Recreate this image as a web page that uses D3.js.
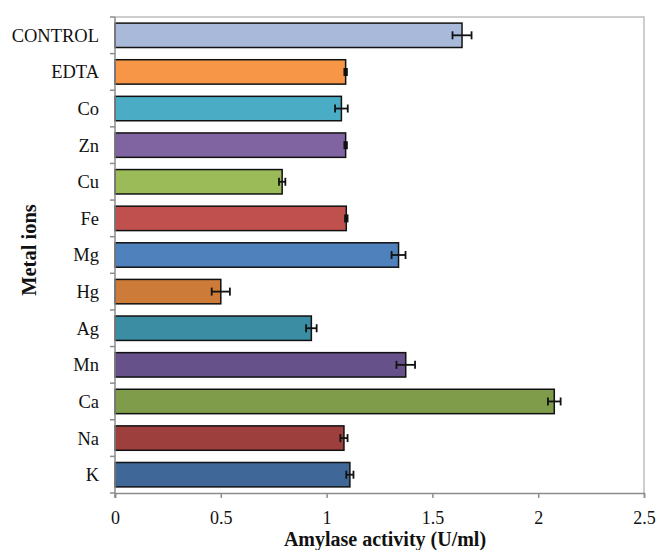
<!DOCTYPE html>
<html>
<head>
<meta charset="utf-8">
<script src="https://cdn.jsdelivr.net/npm/d3@7"></script>
<style>
  html, body { margin: 0; padding: 0; background: #fff; }
</style>
</head>
<body>
<svg id="chart" width="656" height="550"></svg>
<script>
// Amylase activity by metal ion (mean ± error)
const ions = ["CONTROL", "EDTA", "Co", "Zn", "Cu", "Fe", "Mg", "Hg", "Ag", "Mn", "Ca", "Na", "K"];
const activity = [1.64, 1.09, 1.07, 1.09, 0.79, 1.093, 1.34, 0.50, 0.928, 1.374, 2.076, 1.082, 1.11];
const errors = [0.045, 0.006, 0.03, 0.006, 0.015, 0.006, 0.033, 0.043, 0.025, 0.044, 0.03, 0.017, 0.017];
const barColors = ["#A9B9D9", "#F79646", "#4BACC6", "#8064A2", "#9BBB59", "#C0504D", "#4F81BD",
                   "#CD7B38", "#3A8DA3", "#67518A", "#7F9C4A", "#9D3F3D", "#3F6899"];
const xTicks = [0, 0.5, 1, 1.5, 2, 2.5];

const serif = '"Liberation Serif", serif';
const svg = d3.select("#chart");
const plotLeft = 115, plotRight = 644, plotTop = 17, plotBottom = 493;

const x = d3.scaleLinear().domain([0, 2.5]).range([plotLeft, plotRight]);
const y = d3.scaleBand().domain(ions).range([plotTop, plotBottom]).paddingInner(1/3).paddingOuter(1/6);

// plot frame (top and right)
svg.append("path")
  .attr("d", `M${plotLeft},${plotTop}H${plotRight}V${plotBottom}`)
  .attr("fill", "none").attr("stroke", "#bdbdbd").attr("stroke-width", 1.5);

// bars
svg.append("g").selectAll("rect")
  .data(ions)
  .join("rect")
  .attr("x", x(0))
  .attr("y", d => y(d))
  .attr("width", (d, i) => x(activity[i]) - x(0))
  .attr("height", y.bandwidth())
  .attr("fill", (d, i) => barColors[i])
  .attr("stroke", "#111")
  .attr("stroke-width", 1.5);

// error bars
const eb = svg.append("g").attr("stroke", "#111").attr("stroke-width", 1.8);
ions.forEach((d, i) => {
  const cy = y(d) + y.bandwidth() / 2;
  const x0 = x(activity[i] - errors[i]), x1 = x(activity[i] + errors[i]);
  eb.append("line").attr("x1", x0).attr("x2", x1).attr("y1", cy).attr("y2", cy);
  eb.append("line").attr("x1", x0).attr("x2", x0).attr("y1", cy - 4).attr("y2", cy + 4);
  eb.append("line").attr("x1", x1).attr("x2", x1).attr("y1", cy - 4).attr("y2", cy + 4);
});

// x axis
const xAxis = svg.append("g")
  .attr("transform", `translate(0,${plotBottom})`)
  .call(d3.axisBottom(x).tickValues(xTicks).tickFormat(d3.format("")).tickSizeOuter(0).tickSize(5).tickPadding(13));
xAxis.attr("font-family", null).attr("font-size", null);
xAxis.select(".domain").attr("stroke", "#8c8c8c").attr("stroke-width", 1.5);
xAxis.selectAll(".tick line").attr("stroke", "#8c8c8c").attr("stroke-width", 1.5);
xAxis.selectAll("text").attr("fill", "#111")
  .style("font-family", serif).style("font-size", "18px");

// y axis: category boundaries get tick marks
svg.append("line").attr("x1", plotLeft).attr("x2", plotLeft).attr("y1", plotTop).attr("y2", plotBottom + 5)
  .attr("stroke", "#8c8c8c").attr("stroke-width", 1.5);
const step = y.step();
const bounds = d3.range(ions.length + 1).map(k => plotTop + k * step);
svg.append("g").selectAll("line")
  .data(bounds)
  .join("line")
  .attr("x1", plotLeft - 5).attr("x2", plotLeft)
  .attr("y1", d => d).attr("y2", d => d)
  .attr("stroke", "#8c8c8c").attr("stroke-width", 1.5);

svg.append("g")
  .selectAll("text")
  .data(ions)
  .join("text")
  .attr("x", 99)
  .attr("y", d => y(d) + y.bandwidth() / 2)
  .attr("dy", "0.35em")
  .attr("text-anchor", "end")
  .attr("fill", "#111")
  .style("font-family", serif).style("font-size", "18.5px")
  .text(d => d);

// axis titles
svg.append("text")
  .attr("x", 385).attr("y", 546)
  .attr("text-anchor", "middle").attr("font-weight", "bold").attr("fill", "#111")
  .style("font-family", serif).style("font-size", "20px")
  .text("Amylase activity (U/ml)");

svg.append("text")
  .attr("transform", `translate(36,250) rotate(-90)`)
  .attr("text-anchor", "middle").attr("font-weight", "bold").attr("fill", "#111")
  .style("font-family", serif).style("font-size", "20.5px")
  .text("Metal ions");
</script>
</body>
</html>
